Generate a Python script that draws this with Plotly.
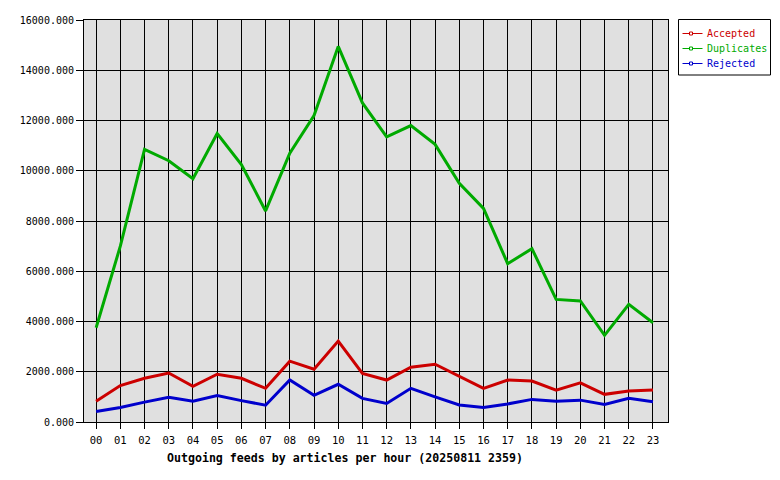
import plotly.graph_objects as go

hours = ["%02d" % h for h in range(24)]
accepted = [830, 1450, 1740, 1950, 1420, 1900, 1740, 1340, 2420, 2100, 3220, 1930,
            1670, 2180, 2300, 1830, 1340, 1670, 1630, 1270, 1560, 1100, 1230, 1270]
duplicates = [3750, 7000, 10850, 10400, 9680, 11480, 10250, 8400, 10700, 12200, 14950, 12700,
              11350, 11800, 11050, 9500, 8500, 6300, 6900, 4880, 4820, 3450, 4680, 3950]
rejected = [420, 580, 790, 980, 830, 1050, 850, 670, 1670, 1060, 1500, 940,
            740, 1340, 1000, 680, 580, 720, 900, 830, 870, 700, 940, 810]
series_names = ["Accepted", "Duplicates", "Rejected"]
colors = ["#cc0000", "#00aa00", "#0000cc"]
title = "Outgoing feeds by articles per hour (20250811 2359)"

FONT = "DejaVu Sans Mono"
W, H = 780, 480
L, R, T, B = 84, 668, 20, 422  # plot area in pixels


def px(x):
    return (x - L) / (R - L)


def py(y):
    return (B - y) / (B - T)


fig = go.Figure()
for name, vals, col in zip(series_names, [accepted, duplicates, rejected], colors):
    fig.add_trace(go.Scatter(x=hours, y=vals, mode="lines", line=dict(color=col, width=3),
                             name=name, showlegend=False, hoverinfo="skip"))

# hand-drawn legend box (matches the original image-style legend)
shapes = [dict(type="rect", xref="paper", yref="paper", x0=px(678.5), x1=px(770.5),
               y0=py(75), y1=py(19.5), line=dict(color="black", width=1), fillcolor="white",
               layer="above")]
annotations = []
for i, (name, col) in enumerate(zip(series_names, colors)):
    yy = 33.5 + 15 * i
    shapes.append(dict(type="line", xref="paper", yref="paper", x0=px(682.5), x1=px(702.5),
                       y0=py(yy), y1=py(yy), line=dict(color=col, width=1), layer="above"))
    shapes.append(dict(type="rect", xref="paper", yref="paper", x0=px(689.5), x1=px(692.5),
                       y0=py(yy + 1.5), y1=py(yy - 1.5), line=dict(color=col, width=1),
                       fillcolor="white", layer="above"))
    annotations.append(dict(text=name, xref="paper", yref="paper", x=px(705), y=py(yy),
                            xanchor="left", yanchor="middle", showarrow=False,
                            font=dict(family=FONT, size=10, color=col)))

annotations.append(dict(text="<b>%s</b>" % title, xref="paper", yref="paper",
                        x=px(165), y=py(457.5), xanchor="left", yanchor="middle",
                        showarrow=False, font=dict(family=FONT, size=11.6, color="black")))

fig.update_layout(
    width=W, height=H,
    margin=dict(l=L, r=W - R, t=T, b=H - B),
    paper_bgcolor="white", plot_bgcolor="#e0e0e0",
    font=dict(family=FONT, size=10, color="black"),
    showlegend=False,
    shapes=shapes, annotations=annotations,
)
fig.update_xaxes(type="category", range=[-0.5, 23.62], showgrid=True, gridcolor="black", gridwidth=1,
                 showline=True, linecolor="black", linewidth=1, mirror=True,
                 ticks="outside", ticklen=6, tickcolor="black", zeroline=False,
                 ticklabelstandoff=2,
                 tickfont=dict(family=FONT, size=10.5))
fig.update_yaxes(range=[0, 16000], dtick=2000, tick0=0, tickformat=".3f",
                 showgrid=True, gridcolor="black", gridwidth=1,
                 showline=True, linecolor="black", linewidth=1, mirror=True,
                 ticks="outside", ticklen=7, tickcolor="black", zeroline=False,
                 ticklabelstandoff=0,
                 tickfont=dict(family=FONT, size=10))
fig.write_html("out.html")
